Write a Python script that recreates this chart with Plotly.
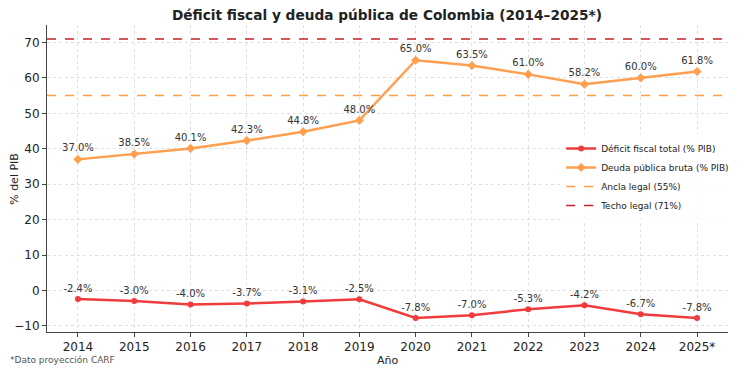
import plotly.graph_objects as go

years = ["2014", "2015", "2016", "2017", "2018", "2019", "2020", "2021", "2022", "2023", "2024", "2025*"]
deficit = [-2.4, -3.0, -4.0, -3.7, -3.1, -2.5, -7.8, -7.0, -5.3, -4.2, -6.7, -7.8]
deuda = [37.0, 38.5, 40.1, 42.3, 44.8, 48.0, 65.0, 63.5, 61.0, 58.2, 60.0, 61.8]
ancla = 55
techo = 71

x = list(range(len(years)))
font = "DejaVu Sans"

fig = go.Figure()
fig.add_trace(go.Scatter(
    x=x, y=deficit, mode="lines+markers+text", name="Déficit fiscal total (% PIB)",
    line=dict(color="#f03c3c", width=2.5), marker=dict(symbol="circle", size=6, color="#f03c3c"),
    text=[f"{v:.1f}%" for v in deficit], textposition="top center",
    textfont=dict(size=10, color="#333333", family=font), cliponaxis=False))
fig.add_trace(go.Scatter(
    x=x, y=deuda, mode="lines+markers+text", name="Deuda pública bruta (% PIB)",
    line=dict(color="#ff9f4f", width=2.5), marker=dict(symbol="diamond", size=7, color="#ff9f4f"),
    text=[f"{v:.1f}%" for v in deuda], textposition="top center",
    textfont=dict(size=10, color="#333333", family=font), cliponaxis=False))
fig.add_trace(go.Scatter(
    x=[-0.55, 11.55], y=[ancla, ancla], mode="lines", name="Ancla legal (55%)",
    line=dict(color="#ffa040", width=1.5, dash="dash")))
fig.add_trace(go.Scatter(
    x=[-0.55, 11.55], y=[techo, techo], mode="lines", name="Techo legal (71%)",
    line=dict(color="#c8202a", width=1.5, dash="dash")))

fig.update_layout(
    width=737, height=368,
    margin=dict(l=47, r=9, t=25, b=36, autoexpand=False),
    paper_bgcolor="white", plot_bgcolor="white",
    font=dict(family=font, size=11, color="#222222"),
    title=dict(text="<b>Déficit fiscal y deuda pública de Colombia (2014–2025*)</b>",
               x=0.525, xanchor="center", y=0.959, yanchor="middle",
               font=dict(size=13.7, family=font, color="#222222")),
    legend=dict(x=0.755, y=0.505, xanchor="left", yanchor="middle",
                font=dict(size=9, family=font, color="#222222"),
                bgcolor="rgba(255,255,255,0.8)", borderwidth=0, tracegroupgap=0,
                itemwidth=30),
    showlegend=True,
)
fig.update_xaxes(
    range=[-0.55, 11.55], tickvals=x, ticktext=years,
    showgrid=True, gridcolor="#e0e0e0", griddash="dot", gridwidth=1,
    showline=True, linecolor="#444444", linewidth=1, mirror=False,
    ticks="outside", ticklen=4, tickcolor="#444444", tickfont=dict(size=12),
    automargin=False, zeroline=False)
fig.update_yaxes(
    range=[-11.74, 74.94], tickvals=[-10, 0, 10, 20, 30, 40, 50, 60, 70],
    ticktext=["−10", "0", "10", "20", "30", "40", "50", "60", "70"],
    showgrid=True, gridcolor="#e0e0e0", griddash="dot", gridwidth=1,
    showline=True, linecolor="#444444", linewidth=1,
    ticks="outside", ticklen=4, tickcolor="#444444", tickfont=dict(size=12),
    automargin=False, zeroline=False)

# axis titles and footnote
fig.add_annotation(text="Año", x=0.5, y=-0.065, xref="paper", yref="paper",
                   xanchor="center", yanchor="top", showarrow=False,
                   font=dict(size=11, color="#222222", family=font))
fig.add_annotation(text="% del PIB", x=-0.048, y=0.5, xref="paper", yref="paper",
                   xanchor="center", yanchor="middle", showarrow=False, textangle=-90,
                   font=dict(size=11, color="#222222", family=font))
fig.add_annotation(text="*Dato proyección CARF", x=-0.058, y=-0.09, xref="paper", yref="paper",
                   xanchor="left", yanchor="middle", showarrow=False,
                   font=dict(size=9, color="#555555", family=font))

fig.write_html("out.html", config={"displayModeBar": False},
               post_script="document.body.style.margin='0';")
